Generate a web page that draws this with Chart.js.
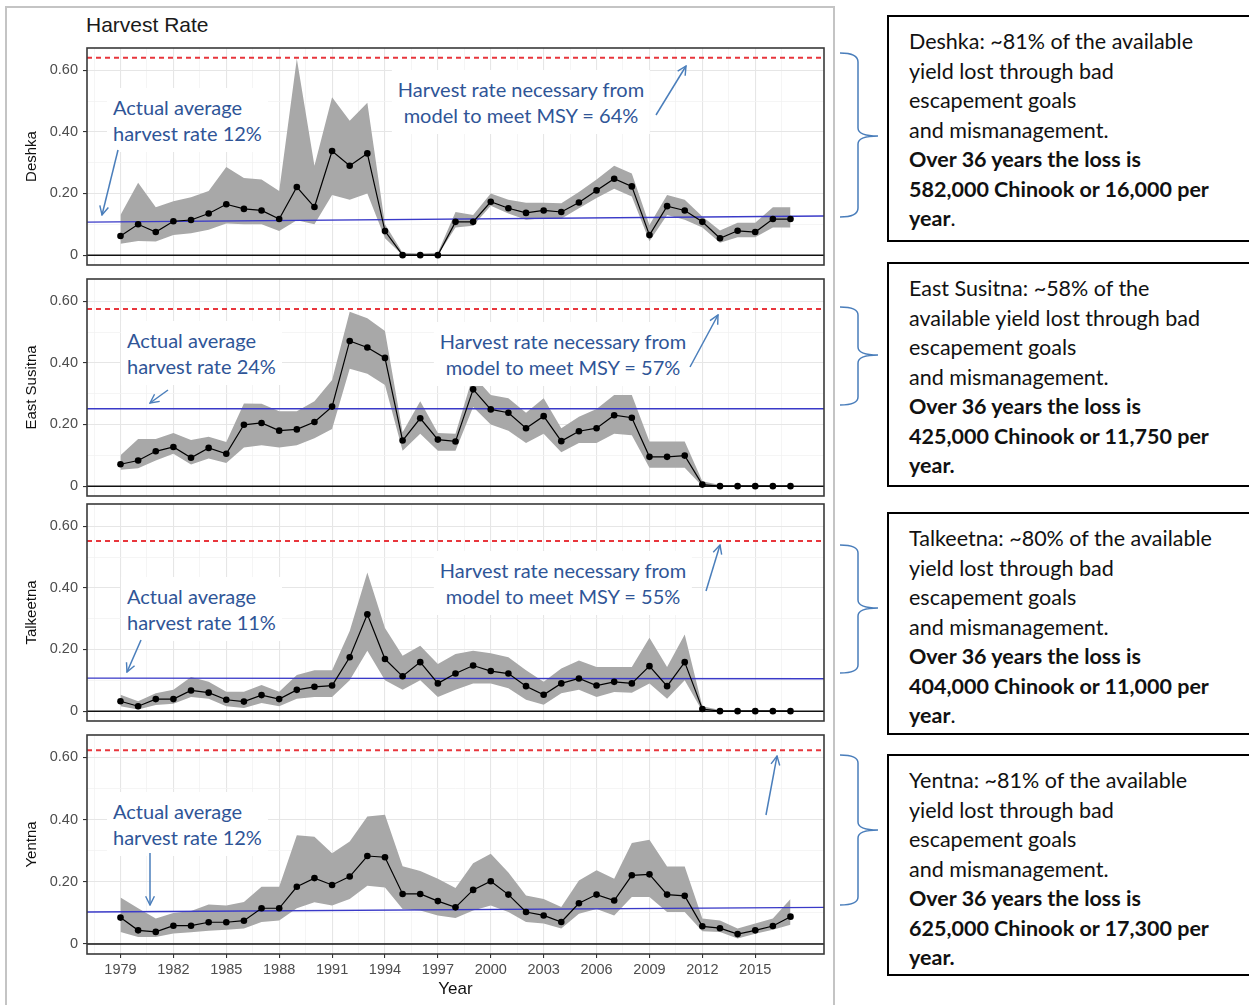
<!DOCTYPE html>
<html>
<head>
<meta charset="utf-8">
<script src="https://cdn.jsdelivr.net/npm/chart.js@4.4.1/dist/chart.umd.min.js"></script>
<style>
body { margin: 0; width: 1249px; height: 1005px; overflow: hidden; background: #fff; position: relative; font-family: "Liberation Sans", Arial, sans-serif; }
#frame { position: absolute; left: 5px; top: 6px; width: 826px; height: 1020px; border: 2px solid #c4c4c4; }
.panel { position: absolute; left: 7px; }
#title { position: absolute; left: 86px; top: 13px; font-size: 21px; color: #1a1a1a; }
.note { position: absolute; font-family: Lato, sans-serif; font-size: 20px; line-height: 26px; color: #2f5597; background: #fff; padding: 6px; white-space: nowrap; }
.note.c { text-align: center; transform: translateX(-50%); }
.box { position: absolute; left: 887px; width: 380px; box-sizing: border-box; border: 2px solid #000; padding: 10px 0 0 20px; font-family: Lato, sans-serif; font-size: 21.5px; line-height: 29.5px; color: #111; white-space: nowrap; }
.box b { font-weight: bold; }
svg { position: absolute; left: 0; top: 0; }
</style>
</head>
<body>
<div id="frame"></div>
<div id="title">Harvest Rate</div>

<div class="panel" style="top:44px"><canvas id="deshka" width="821" height="225"></canvas></div>
<div class="panel" style="top:275px"><canvas id="eastSusitna" width="821" height="225"></canvas></div>
<div class="panel" style="top:500px"><canvas id="talkeetna" width="821" height="225"></canvas></div>
<div class="panel" style="top:731px"><canvas id="yentna" width="821" height="271"></canvas></div>

<div class="note" style="left:107px;top:88px">Actual average<br>harvest rate 12%</div>
<div class="note c" style="left:521px;top:70px">Harvest rate necessary from<br>model to meet MSY = 64%</div>
<div class="note" style="left:121px;top:321px">Actual average<br>harvest rate 24%</div>
<div class="note c" style="left:563px;top:322px">Harvest rate necessary from<br>model to meet MSY = 57%</div>
<div class="note" style="left:121px;top:577px">Actual average<br>harvest rate 11%</div>
<div class="note c" style="left:563px;top:551px">Harvest rate necessary from<br>model to meet MSY = 55%</div>
<div class="note" style="left:107px;top:792px">Actual average<br>harvest rate 12%</div>

<div class="box" style="top:15px;height:227px">
  <div>Deshka: ~81% of the available</div>
  <div>yield lost through bad</div>
  <div>escapement goals</div>
  <div>and mismanagement.</div>
  <div><b>Over 36 years the loss is</b></div>
  <div><b>582,000 Chinook or 16,000 per</b></div>
  <div><b>year</b>.</div>
</div>
<div class="box" style="top:262px;height:225px">
  <div>East Susitna: ~58% of the</div>
  <div>available yield lost through bad</div>
  <div>escapement goals</div>
  <div>and mismanagement.</div>
  <div><b>Over 36 years the loss is</b></div>
  <div><b>425,000 Chinook or 11,750 per</b></div>
  <div><b>year.</b></div>
</div>
<div class="box" style="top:512px;height:223px">
  <div>Talkeetna: ~80% of the available</div>
  <div>yield lost through bad</div>
  <div>escapement goals</div>
  <div>and mismanagement.</div>
  <div><b>Over 36 years the loss is</b></div>
  <div><b>404,000 Chinook or 11,000 per</b></div>
  <div><b>year</b>.</div>
</div>
<div class="box" style="top:754px;height:222px">
  <div>Yentna: ~81% of the available</div>
  <div>yield lost through bad</div>
  <div>escapement goals</div>
  <div>and mismanagement.</div>
  <div><b>Over 36 years the loss is</b></div>
  <div><b>625,000 Chinook or 17,300 per</b></div>
  <div><b>year.</b></div>
</div>

<svg width="1249" height="1005">
  <defs>
    <marker id="head" viewBox="0 0 10 10" refX="9" refY="5" markerWidth="11" markerHeight="11" markerUnits="userSpaceOnUse" orient="auto">
      <path d="M1,1 L9,5 L1,9" fill="none" stroke="#4a7ebb" stroke-width="1.3"/>
    </marker>
  </defs>
  <g stroke="#4a7ebb" stroke-width="1.5" fill="none">
    <line x1="118" y1="150" x2="102" y2="215" marker-end="url(#head)"/>
    <line x1="656" y1="115" x2="686" y2="66" marker-end="url(#head)"/>
    <line x1="168" y1="390" x2="150" y2="403" marker-end="url(#head)"/>
    <line x1="690" y1="367" x2="718" y2="315" marker-end="url(#head)"/>
    <line x1="141" y1="640" x2="127" y2="672" marker-end="url(#head)"/>
    <line x1="706" y1="591" x2="720" y2="545" marker-end="url(#head)"/>
    <line x1="150" y1="853" x2="150" y2="905" marker-end="url(#head)"/>
    <line x1="766" y1="815" x2="777" y2="756" marker-end="url(#head)"/>
    <path d="M840,53 Q858,53 858,62 L858,128 Q858,136 878,136 Q858,136 858,144 L858,208 Q858,217 840,217"/>
    <path d="M840,307 Q858,307 858,315 L858,347 Q858,355 878,355 Q858,355 858,363 L858,397 Q858,405 840,405"/>
    <path d="M840,545 Q858,545 858,553 L858,600 Q858,608 878,608 Q858,608 858,616 L858,665 Q858,673 840,673"/>
    <path d="M840,755 Q858,755 858,763 L858,822 Q858,830 878,830 Q858,830 858,838 L858,897 Q858,905 840,905"/>
  </g>
</svg>

<script>
let years = [1979, 1980, 1981, 1982, 1983, 1984, 1985, 1986, 1987, 1988,
             1989, 1990, 1991, 1992, 1993, 1994, 1995, 1996, 1997, 1998,
             1999, 2000, 2001, 2002, 2003, 2004, 2005, 2006, 2007, 2008,
             2009, 2010, 2011, 2012, 2013, 2014, 2015, 2016, 2017];
let tickYears = [1979, 1982, 1985, 1988, 1991, 1994, 1997, 2000, 2003, 2006, 2009, 2012, 2015];
let rateTicks = [0, 0.1, 0.2, 0.3, 0.4, 0.5, 0.6];

let deshkaMean = [0.062, 0.100, 0.075, 0.110, 0.114, 0.135, 0.165, 0.150, 0.145, 0.117, 0.221, 0.156, 0.338, 0.290, 0.330, 0.078, 0, 0, 0, 0.108,
                  0.108, 0.173, 0.152, 0.137, 0.145, 0.140, 0.171, 0.210, 0.248, 0.223, 0.065, 0.159, 0.145, 0.108, 0.055, 0.079, 0.075, 0.117, 0.117];
let deshkaLo = [0.037, 0.046, 0.044, 0.065, 0.071, 0.082, 0.103, 0.100, 0.100, 0.078, 0.113, 0.100, 0.195, 0.180, 0.200, 0.055, 0, 0, 0, 0.090,
                0.095, 0.160, 0.135, 0.115, 0.120, 0.118, 0.152, 0.185, 0.215, 0.190, 0.045, 0.130, 0.115, 0.090, 0.040, 0.058, 0.058, 0.090, 0.090];
let deshkaHi = [0.130, 0.235, 0.155, 0.175, 0.188, 0.208, 0.286, 0.250, 0.245, 0.208, 0.637, 0.290, 0.512, 0.436, 0.494, 0.100, 0.008, 0.005, 0.008, 0.140,
                0.130, 0.200, 0.180, 0.170, 0.170, 0.168, 0.205, 0.245, 0.290, 0.265, 0.098, 0.195, 0.180, 0.125, 0.080, 0.105, 0.105, 0.155, 0.155];

let eastMean = [0.071, 0.083, 0.113, 0.127, 0.092, 0.124, 0.105, 0.199, 0.205, 0.180, 0.184, 0.208, 0.258, 0.471, 0.450, 0.416, 0.148, 0.220, 0.151, 0.145,
                0.314, 0.249, 0.238, 0.188, 0.227, 0.146, 0.178, 0.188, 0.230, 0.222, 0.095, 0.095, 0.099, 0.005, 0, 0, 0, 0, 0];
let eastLo = [0.053, 0.058, 0.083, 0.105, 0.070, 0.090, 0.075, 0.125, 0.133, 0.125, 0.133, 0.155, 0.185, 0.381, 0.365, 0.328, 0.115, 0.170, 0.115, 0.115,
              0.257, 0.200, 0.180, 0.140, 0.170, 0.110, 0.140, 0.140, 0.170, 0.165, 0.060, 0.060, 0.060, 0, 0, 0, 0, 0, 0];
let eastHi = [0.100, 0.153, 0.153, 0.172, 0.150, 0.160, 0.143, 0.268, 0.267, 0.243, 0.243, 0.275, 0.344, 0.566, 0.545, 0.503, 0.175, 0.275, 0.172, 0.170,
              0.360, 0.296, 0.285, 0.238, 0.285, 0.188, 0.225, 0.250, 0.296, 0.296, 0.145, 0.145, 0.145, 0.016, 0.004, 0.004, 0.004, 0.004, 0.004];

let talkMean = [0.032, 0.016, 0.039, 0.039, 0.067, 0.060, 0.037, 0.031, 0.052, 0.039, 0.069, 0.079, 0.083, 0.175, 0.314, 0.169, 0.113, 0.159, 0.090, 0.122,
                0.148, 0.130, 0.122, 0.081, 0.053, 0.090, 0.106, 0.083, 0.095, 0.090, 0.146, 0.081, 0.159, 0.007, 0, 0, 0, 0, 0];
let talkLo = [0.016, 0.005, 0.020, 0.024, 0.046, 0.040, 0.016, 0.010, 0.026, 0.016, 0.040, 0.046, 0.046, 0.100, 0.196, 0.100, 0.069, 0.100, 0.046, 0.069,
              0.090, 0.090, 0.074, 0.037, 0.021, 0.058, 0.069, 0.046, 0.062, 0.060, 0.090, 0.040, 0.100, 0, 0, 0, 0, 0, 0];
let talkHi = [0.053, 0.032, 0.058, 0.069, 0.111, 0.095, 0.063, 0.063, 0.085, 0.063, 0.117, 0.133, 0.133, 0.260, 0.450, 0.270, 0.180, 0.212, 0.153, 0.185,
              0.196, 0.188, 0.175, 0.133, 0.095, 0.138, 0.164, 0.143, 0.143, 0.143, 0.238, 0.143, 0.249, 0.016, 0.004, 0.004, 0.004, 0.004, 0.004];

let yenMean = [0.085, 0.044, 0.039, 0.059, 0.059, 0.070, 0.070, 0.075, 0.115, 0.115, 0.184, 0.212, 0.190, 0.217, 0.283, 0.279, 0.161, 0.161, 0.138, 0.118,
               0.174, 0.202, 0.159, 0.103, 0.092, 0.071, 0.131, 0.159, 0.140, 0.221, 0.224, 0.159, 0.155, 0.057, 0.051, 0.032, 0.044, 0.058, 0.088];
let yenLo = [0.039, 0.023, 0.023, 0.034, 0.038, 0.043, 0.046, 0.050, 0.071, 0.076, 0.115, 0.134, 0.124, 0.145, 0.187, 0.182, 0.113, 0.108, 0.092, 0.084,
             0.108, 0.124, 0.103, 0.071, 0.066, 0.050, 0.097, 0.113, 0.092, 0.151, 0.151, 0.103, 0.103, 0.041, 0.039, 0.018, 0.033, 0.046, 0.062];
let yenHi = [0.150, 0.115, 0.082, 0.100, 0.106, 0.127, 0.124, 0.135, 0.184, 0.184, 0.350, 0.345, 0.292, 0.330, 0.410, 0.416, 0.250, 0.235, 0.210, 0.180,
             0.260, 0.290, 0.230, 0.156, 0.145, 0.119, 0.204, 0.237, 0.210, 0.325, 0.335, 0.249, 0.249, 0.082, 0.076, 0.050, 0.066, 0.082, 0.145];

// average harvest line (start, end) and MSY harvest rate per river
let avgStart = [0.107, 0.251, 0.107, 0.103];
let avgEnd = [0.127, 0.251, 0.105, 0.118];
let msyRate = [0.640, 0.575, 0.552, 0.623];

let xMin = 1977.1, xMax = 2018.9;
let yMin = -0.032, yMax = 0.672;

function pts(vals) {
    let out = [];
    for (let i = 0; i < years.length; i++) {
        out.push({ x: years[i], y: vals[i] });
    }
    return out;
}

function flat(a, b) {
    return [{ x: xMin, y: a }, { x: xMax, y: b }];
}

function isMinorRate(v) {
    return Math.round(v * 10) % 2 !== 0;
}

function isMinorYear(v) {
    return tickYears.indexOf(v) < 0;
}

function noEdgePadding(scale) {
    scale.paddingTop = 0;
    scale.paddingBottom = 0;
    scale.paddingLeft = 0;
    scale.paddingRight = 0;
}

let panelBox = {
    id: "panelBox",
    afterDraw: function (chart) {
        let a = chart.chartArea;
        let ctx = chart.ctx;
        ctx.save();
        ctx.strokeStyle = "#3a3a3a";
        ctx.lineWidth = 1.6;
        ctx.strokeRect(a.left, a.top, a.right - a.left, a.bottom - a.top);
        ctx.restore();
    }
};

function makePanel(id, name, k, mean, lo, hi, showX) {
    let ctx = document.getElementById(id);
    return new Chart(ctx, {
        type: "line",
        plugins: [panelBox],
        data: {
            datasets: [
                { data: pts(mean), borderColor: "#000", borderWidth: 1.2, pointRadius: 3.3, pointBackgroundColor: "#000", pointBorderWidth: 0, order: 0 },
                { data: flat(msyRate[k], msyRate[k]), borderColor: "#e8363c", borderWidth: 2, borderDash: [5, 4], pointRadius: 0, order: 1 },
                { data: flat(avgStart[k], avgEnd[k]), borderColor: "#3a3ac8", borderWidth: 1.3, pointRadius: 0, order: 2 },
                { data: flat(0, 0), borderColor: "#111", borderWidth: 1.5, pointRadius: 0, order: 3 },
                { data: pts(lo), borderWidth: 0, pointRadius: 0, fill: false, order: 5 },
                { data: pts(hi), borderWidth: 0, pointRadius: 0, fill: "-1", backgroundColor: "#a8a8a8", order: 4 }
            ]
        },
        options: {
            responsive: false,
            animation: false,
            layout: { padding: { top: 2, right: 3, bottom: showX ? 0 : 2, left: 0 } },
            plugins: { legend: { display: false }, tooltip: { enabled: false } },
            elements: { line: { tension: 0 } },
            scales: {
                x: {
                    type: "linear",
                    min: xMin,
                    max: xMax,
                    afterBuildTicks: function (scale) {
                        let t = [{ value: tickYears[0] - 1.5 }];
                        for (let i = 0; i < tickYears.length; i++) {
                            t.push({ value: tickYears[i] });
                            t.push({ value: tickYears[i] + 1.5 });
                        }
                        scale.ticks = t;
                    },
                    afterFit: function (scale) {
                        scale.height = showX ? 48 : 0;
                        noEdgePadding(scale);
                    },
                    border: { display: false },
                    grid: {
                        color: function (c) { return c.tick && isMinorYear(c.tick.value) ? "#f3f3f3" : "#e6e6e6"; },
                        lineWidth: function (c) { return c.tick && isMinorYear(c.tick.value) ? 0.8 : 1.1; },
                        drawTicks: showX,
                        tickLength: 4,
                        tickColor: function (c) { return c.tick && isMinorYear(c.tick.value) ? "rgba(0,0,0,0)" : "#333"; },
                        tickWidth: 1.1
                    },
                    ticks: {
                        display: showX,
                        autoSkip: false,
                        maxRotation: 0,
                        padding: 3,
                        color: "#4d4d4d",
                        font: { family: "Liberation Sans, Arial", size: 14.5 },
                        callback: function (v) { return isMinorYear(v) ? "" : String(v); }
                    },
                    title: {
                        display: showX,
                        text: "Year",
                        color: "#111",
                        font: { family: "Liberation Sans, Arial", size: 17 },
                        padding: { top: 0, bottom: 2 }
                    }
                },
                y: {
                    min: yMin,
                    max: yMax,
                    afterBuildTicks: function (scale) {
                        scale.ticks = rateTicks.map(function (v) { return { value: v }; });
                    },
                    afterFit: function (scale) {
                        scale.width = 80;
                        noEdgePadding(scale);
                    },
                    border: { display: false },
                    grid: {
                        color: function (c) { return c.tick && isMinorRate(c.tick.value) ? "#f3f3f3" : "#e6e6e6"; },
                        lineWidth: function (c) { return c.tick && isMinorRate(c.tick.value) ? 0.8 : 1.1; },
                        tickLength: 4,
                        tickColor: function (c) { return c.tick && isMinorRate(c.tick.value) ? "rgba(0,0,0,0)" : "#333"; },
                        tickWidth: 1.1
                    },
                    ticks: {
                        padding: 5,
                        color: "#4d4d4d",
                        font: { family: "Liberation Sans, Arial", size: 14.5 },
                        callback: function (v) {
                            if (isMinorRate(v)) return "";
                            return v === 0 ? "0" : v.toFixed(2);
                        }
                    },
                    title: {
                        display: true,
                        text: name,
                        color: "#111",
                        font: { family: "Liberation Sans, Arial", size: 15 },
                        padding: { top: 16, bottom: 0 }
                    }
                }
            }
        }
    });
}

makePanel("deshka", "Deshka", 0, deshkaMean, deshkaLo, deshkaHi, false);
makePanel("eastSusitna", "East Susitna", 1, eastMean, eastLo, eastHi, false);
makePanel("talkeetna", "Talkeetna", 2, talkMean, talkLo, talkHi, false);
makePanel("yentna", "Yentna", 3, yenMean, yenLo, yenHi, true);
</script>
</body>
</html>
